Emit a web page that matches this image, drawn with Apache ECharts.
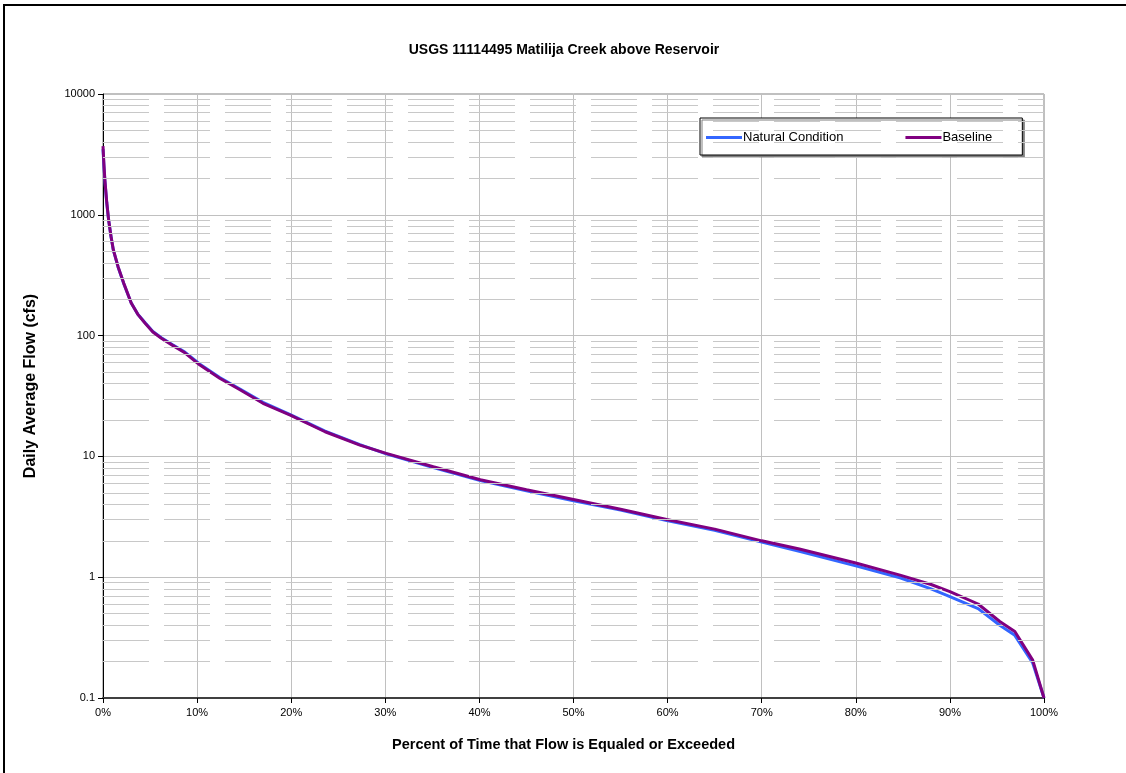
<!DOCTYPE html>
<html><head><meta charset="utf-8">
<script src="https://cdn.jsdelivr.net/npm/echarts@6/dist/echarts.min.js"></script>
<style>html,body{margin:0;padding:0;background:#fff}#c{width:1126px;height:773px}</style>
</head><body><div id="c"></div>
<script>
const title = 'USGS 11114495 Matilija Creek above Reservoir';
const xTitle = 'Percent of Time that Flow is Equaled or Exceeded';
const yTitle = 'Daily Average Flow (cfs)';
const seriesNames = ['Natural Condition', 'Baseline'];
const pct = [0, 0.1, 0.2, 0.4, 0.6, 0.85, 1.1, 1.6, 2.2, 3.0, 3.7, 4.5, 5.3, 6.2, 7.4, 8.7, 10.3, 12.4, 14.6, 17, 19.9, 23.6, 27.3, 30.1, 35.1, 40.1, 45, 50, 55, 59.9, 65, 70, 74, 80, 84.7, 88, 90, 93, 95.3, 96.9, 98.8, 100];
const natural = [3500, 2500, 1900, 1250, 900, 660, 510, 370, 270, 186, 150, 127, 108, 96, 84, 73, 58, 45, 36, 28, 22.2, 16.2, 12.5, 10.5, 8.1, 6.3, 5.2, 4.3, 3.6, 2.95, 2.45, 1.95, 1.64, 1.24, 0.99, 0.8, 0.69, 0.55, 0.40, 0.33, 0.195, 0.1];
const baseline = [3700, 2600, 1950, 1270, 905, 665, 512, 372, 272, 186, 150, 126, 107, 95, 83, 72, 57, 44.4, 35.5, 27.5, 22, 16, 12.4, 10.6, 8.2, 6.4, 5.3, 4.4, 3.65, 3.0, 2.5, 2.0, 1.71, 1.31, 1.04, 0.87, 0.76, 0.6, 0.43, 0.355, 0.206, 0.1];
const decades = [0.1, 1, 10, 100, 1000];
const minorMultipliers = [2, 3, 4, 5, 6, 7, 8, 9];

const minorValues = [];
decades.forEach(d => minorMultipliers.forEach(m => minorValues.push(+(d * m).toPrecision(3))));

const chart = echarts.init(document.getElementById('c'));
const font = 'Liberation Sans, Arial, sans-serif';
chart.setOption({
  animation: false,
  textStyle: {fontFamily: font},
  title: {text: title, left: 559, top: 38, textAlign: 'center',
    textStyle: {fontSize: 14, fontWeight: 'bold', color: '#000', fontFamily: font}},
  graphic: [{type: 'rect', shape: {x: 4, y: 5, width: 1300, height: 1000},
    style: {fill: null, stroke: '#000', lineWidth: 2}, z: 100, silent: true}],
  legend: {
    data: seriesNames.map(n => ({name: n, icon: 'rect'})), left: 700, top: 118,
    padding: [13, 30, 11, 6], itemGap: 62, itemWidth: 36, itemHeight: 3,
    backgroundColor: '#fff', borderColor: '#000', borderWidth: 1,
    shadowColor: '#808080', shadowOffsetX: 2, shadowOffsetY: 2, shadowBlur: 0,
    textStyle: {fontSize: 13, color: '#000', fontFamily: font, padding: [0, 0, 0, -4]}
  },
  grid: {left: 103, top: 94, right: 82, bottom: 75, show: true, borderColor: '#808080', borderWidth: 1, backgroundColor: '#fff'},
  xAxis: {
    type: 'value', min: 0, max: 100, interval: 10,
    name: xTitle, nameLocation: 'middle', nameGap: 39,
    nameTextStyle: {fontSize: 14.5, fontWeight: 'bold', color: '#000', fontFamily: font, padding: [0, 20, 0, 0]},
    axisLine: {show: true, onZero: false, lineStyle: {color: '#404040', width: 2}},
    axisTick: {show: true, inside: false, length: 5, lineStyle: {color: '#000'}},
    axisLabel: {formatter: '{value}%', fontSize: 11, color: '#000', margin: 9},
    splitLine: {show: true, lineStyle: {color: '#c0c0c0', width: 1}}
  },
  yAxis: {
    type: 'log', logBase: 10, min: 0.1, max: 10000,
    name: yTitle, nameLocation: 'middle', nameGap: 64,
    nameTextStyle: {fontSize: 16, fontWeight: 'bold', color: '#000', fontFamily: font, padding: [0, 0, 0, 20]},
    axisLine: {show: true, onZero: false, lineStyle: {color: '#000', width: 1}},
    axisTick: {show: true, inside: false, length: 5, lineStyle: {color: '#000'}},
    axisLabel: {fontSize: 11, color: '#000', margin: 8,
      formatter: v => v < 0.5 ? '0.1' : String(Math.round(v))},
    splitLine: {show: true, lineStyle: {color: '#c0c0c0', width: 1}},
    minorTick: {show: false}, minorSplitLine: {show: false}
  },
  series: [
    {type: 'line', name: '__grid', data: [], z: 1, silent: true,
      markLine: {silent: true, symbol: 'none', label: {show: false},
        lineStyle: {color: '#c8c8c8', width: 1, type: [46, 15]},
        emphasis: {disabled: true},
        data: minorValues.map(v => ({yAxis: v}))}},
    {type: 'line', name: seriesNames[0], data: pct.map((p, i) => [p, natural[i]]),
      symbol: 'none', smooth: false, lineStyle: {color: '#3366ff', width: 3}, itemStyle: {color: '#3366ff'}, z: 3},
    {type: 'line', name: seriesNames[1], data: pct.map((p, i) => [p, baseline[i]]),
      symbol: 'none', smooth: false, lineStyle: {color: '#800080', width: 3}, itemStyle: {color: '#800080'}, z: 4}
  ]
});
</script></body></html>
